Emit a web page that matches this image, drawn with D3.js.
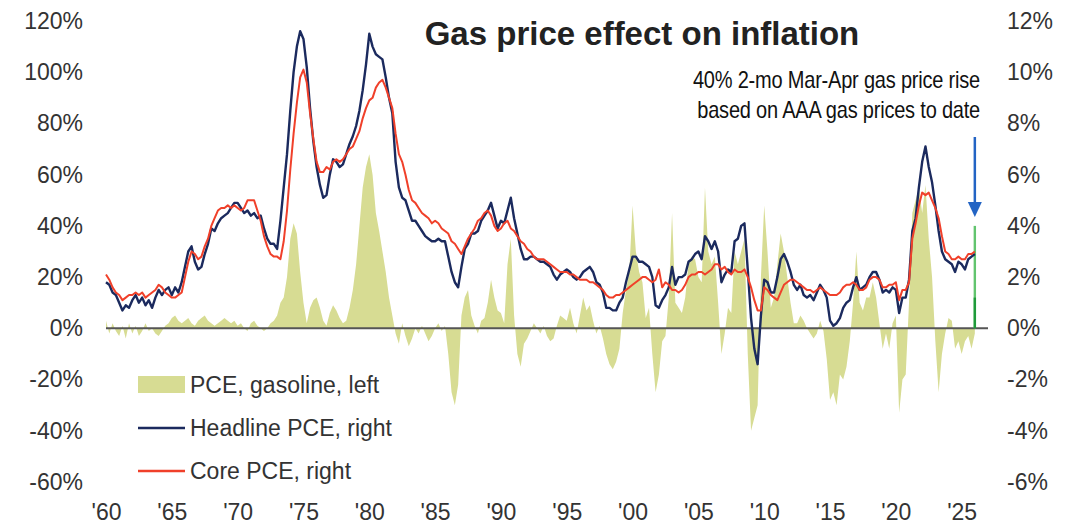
<!DOCTYPE html>
<html><head><meta charset="utf-8">
<script src="https://cdn.jsdelivr.net/npm/d3@7"></script>
<style>
body{margin:0;background:#fff}
svg{display:block}
text{font-family:"Liberation Sans",Arial,Helvetica,sans-serif}
</style>
</head><body>
<svg id="chart" width="1081" height="526"></svg>
<script>
// quarterly observations, starting 1960 Q1
const startYear = 1960;
const headline = [
1.8,1.7,1.4,1.3, 1.0,0.7,0.9,0.8, 1.1,1.3,1.0,1.2, 0.9,1.1,0.8,1.2, 1.5,1.3,1.5,1.6,
1.3,1.6,1.4,1.8, 2.4,3.0,3.2,2.6, 2.3,2.4,2.9,3.3, 3.9,3.8,4.1,4.3, 4.4,4.5,4.7,4.9,
4.9,4.7,4.5,4.6, 4.4,4.5,4.3,4.4, 3.9,3.5,3.3,3.3, 3.1,4.2,5.5,6.8, 8.5,10.0,11.0,11.6,
11.3,10.2,8.6,7.3, 6.3,5.6,5.1,5.2, 6.0,6.6,6.5,6.3, 6.4,6.8,7.2,7.5, 7.9,8.5,9.3,10.3,
11.5,11.0,10.7,10.6, 10.5,9.8,9.0,8.4, 6.5,5.5,5.1,5.0, 4.6,4.2,4.2,4.0, 3.8,3.6,3.5,3.4,
3.4,3.5,3.4,3.4, 2.8,2.2,1.8,1.6, 2.4,3.1,3.3,3.7, 3.7,3.8,4.2,4.4, 4.6,4.9,4.4,3.9,
4.2,4.1,4.6,5.1, 4.3,3.7,3.1,2.7, 2.7,2.8,2.8,2.7, 2.6,2.6,2.5,2.4, 2.1,1.9,2.1,2.2,
2.3,2.2,2.0,1.9, 2.0,2.2,2.3,2.4, 2.2,1.8,1.7,1.4, 0.8,0.8,0.7,0.7, 1.0,1.2,1.8,2.3,
2.8,2.8,2.6,2.6, 2.5,2.4,2.0,0.9, 0.8,1.1,1.3,1.6, 2.4,1.7,2.0,2.0, 2.1,2.6,2.7,2.9,
3.0,2.7,3.6,3.4, 3.1,3.4,3.0,1.8, 2.1,2.3,2.2,3.4, 3.5,4.0,4.1,2.3, 0.4,-0.8,-1.4,0.5,
1.9,1.8,1.4,1.4, 2.0,2.7,2.9,2.6, 2.2,1.7,1.5,1.7, 1.3,1.2,1.3,1.1, 1.4,1.7,1.5,1.2,
0.3,0.1,0.2,0.4, 0.8,1.0,1.1,1.6, 2.0,1.5,1.6,1.7, 2.0,2.2,2.2,1.9, 1.4,1.5,1.4,1.6,
1.5,0.6,1.2,1.2, 1.9,3.8,4.3,5.5, 6.5,7.1,6.3,5.7, 4.8,3.8,3.0,2.7, 2.6,2.5,2.2,2.6,
2.5,2.3,2.7,2.8, 2.9
];
const core = [
2.1,1.9,1.6,1.4, 1.3,1.1,1.2,1.3, 1.3,1.4,1.3,1.4, 1.2,1.3,1.4,1.5, 1.7,1.6,1.4,1.3,
1.2,1.2,1.3,1.4, 2.0,2.6,3.0,2.9, 2.7,2.8,3.2,3.5, 4.0,4.3,4.6,4.7, 4.7,4.8,4.7,4.8,
4.7,4.6,4.7,5.0, 5.0,5.0,4.6,4.2, 3.6,3.2,2.9,2.8, 2.8,2.7,3.4,4.6, 6.2,7.6,8.8,9.8,
10.1,9.6,8.4,7.4, 6.5,6.1,6.1,6.3, 6.2,6.5,6.6,6.5, 6.6,6.8,7.0,7.1, 7.4,7.7,8.2,8.6,
8.9,9.0,9.4,9.6, 9.7,9.4,9.0,8.6, 7.6,6.8,6.5,6.0, 5.4,5.0,4.9,4.7, 4.5,4.4,4.3,4.1,
4.2,4.1,3.9,3.8, 3.7,3.4,3.3,3.1, 2.9,3.2,3.5,3.7, 3.9,4.2,4.3,4.5, 4.6,4.4,4.0,3.8,
3.9,4.1,4.2,3.9, 3.8,3.6,3.4,3.3, 3.1,3.0,2.8,2.7, 2.7,2.7,2.6,2.5, 2.4,2.3,2.2,2.2,
2.2,2.1,2.1,2.0, 1.9,1.9,1.9,1.8, 1.8,1.7,1.6,1.5, 1.3,1.2,1.2,1.3, 1.3,1.4,1.5,1.6,
1.7,1.8,1.9,2.0, 2.0,1.9,1.8,1.9, 2.3,1.6,1.8,1.7, 1.5,1.5,1.4,1.5, 1.7,2.0,2.1,2.1,
2.2,2.2,2.1,2.2, 2.3,2.5,2.5,2.3, 2.4,2.2,2.1,2.3, 2.2,2.2,2.3,2.0, 1.6,1.1,0.7,0.7,
1.6,1.5,1.3,1.2, 1.1,1.4,1.7,1.8, 1.9,1.9,1.8,1.7, 1.6,1.5,1.5,1.4, 1.5,1.6,1.5,1.4,
1.3,1.3,1.3,1.4, 1.6,1.7,1.7,1.8, 1.7,1.5,1.5,1.6, 1.9,2.0,2.0,1.9, 1.6,1.6,1.7,1.7,
1.8,1.1,1.5,1.5, 1.8,3.5,4.1,4.8, 5.3,5.2,5.3,5.0, 4.7,4.3,3.6,3.0, 2.9,2.7,2.7,2.8,
2.7,2.7,2.9,2.9, 3.0
];
const gasoline = [
3,-2,2,-1, -3,1,-4,2, -2,1,-3,-1, 2,-1,0,-2, -3,-1,1,2,
4,5,3,2, 3,4,2,1, 3,4,5,3, 2,1,2,3, 4,3,2,3,
1,2,0,-1, 2,3,1,0, -1,0,2,3, 5,10,12,20, 35,41,37,22,
10,2,8,11, 12,8,3,1, 6,9,7,4, 2,3,8,15, 25,40,55,63,
68,60,45,38, 30,22,12,5, -2,-6,2,-3, -7,-4,0,-2, 1,-2,-5,-3,
0,2,-1,1, -10,-25,-30,-22, 5,12,15,5, 1,-2,3,4, 10,19,12,7,
6,2,25,35, 5,-10,-15,-6, -4,-1,2,0, -2,1,-3,-5, -4,1,5,4,
3,8,2,-2, 5,12,7,9, 3,-2,1,-4, -10,-14,-16,-13, -8,6,15,22,
48,30,22,18, 4,8,-10,-25, -18,-5,-3,12, 45,10,8,6, 12,25,28,27,
20,18,55,30, 25,28,10,-10, -2,8,6,30, 25,30,35,-10, -40,-35,-30,20,
48,30,8,12, 25,37,30,20, 10,2,2,5, 3,0,-2,-4, -2,3,-1,-12,
-28,-25,-30,-18, -20,-15,-5,10, 30,10,7,12, 12,18,12,2, -8,-2,-8,2,
5,-33,-20,-18, 10,45,50,55, 45,56,35,20, -5,-25,-10,-2, 4,3,-8,-5,
-10,-5,-3,-8, -2
];
const gasEstimate = 40;   // 2-mo Mar-Apr gas price rise estimate
const gasLatest = 12;
const estimateYear = 2026;
const xTicks = [1960,1965,1970,1975,1980,1985,1990,1995,2000,2005,2010,2015,2020,2025];
const xTickLabels = ["'60","'65","'70","'75","'80","'85","'90","'95","'00","'05","'10","'15","'20","'25"];
const leftTicks = [-60,-40,-20,0,20,40,60,80,100,120];
const rightTicks = [-6,-4,-2,0,2,4,6,8,10,12];
const seriesNames = ["PCE, gasoline, left","Headline PCE, right","Core PCE, right"];
const titleText = "Gas price effect on inflation";
const noteLines = ["40% 2-mo Mar-Apr gas price rise","based on AAA gas prices to date"];

const colors = {gas:"#d7dc93", headline:"#1b2a5e", core:"#f0402a", axis:"#555", text:"#333", arrow:"#2364c4", green:"#62c46e", greenDark:"#1f9a3a"};

const svg = d3.select("#chart");
const dates = headline.map((_, i) => startYear + i / 4);
const x = d3.scaleLinear().domain([1960, 2027]).range([106, 988]);
const yL = d3.scaleLinear().domain([-60, 120]).range([482, 21]);
const yR = d3.scaleLinear().domain([-6, 12]).range([482, 21]);

// gasoline area
const area = d3.area().x((d, i) => x(dates[i])).y0(yL(0)).y1(d => yL(d));
svg.append("path").datum(gasoline).attr("d", area).attr("fill", colors.gas);

// zero line
svg.append("line").attr("x1", x(1960)).attr("x2", x(2027)).attr("y1", yL(0)).attr("y2", yL(0))
  .attr("stroke", colors.axis).attr("stroke-width", 2);

// estimate bar
const bw = 2.4;
svg.append("rect").attr("x", x(estimateYear) - bw/2).attr("width", bw)
  .attr("y", yL(gasEstimate)).attr("height", yL(0) - yL(gasEstimate)).attr("fill", colors.green);
svg.append("rect").attr("x", x(estimateYear) - bw/2).attr("width", bw)
  .attr("y", yL(gasLatest)).attr("height", yL(0) - yL(gasLatest)).attr("fill", colors.greenDark);

// lines
const line = d3.line().x((d, i) => x(dates[i])).y(d => yR(d));
svg.append("path").datum(headline).attr("d", line).attr("fill", "none")
  .attr("stroke", colors.headline).attr("stroke-width", 2.4).attr("stroke-linejoin", "round");
svg.append("path").datum(core).attr("d", line).attr("fill", "none")
  .attr("stroke", colors.core).attr("stroke-width", 2).attr("stroke-linejoin", "round");

// axes
const fs = 23;
const axL = svg.append("g").attr("transform", `translate(${x(1960)},0)`)
  .call(d3.axisLeft(yL).tickValues(leftTicks).tickFormat(d => d + "%").tickSize(0).tickPadding(23));
const axR = svg.append("g").attr("transform", `translate(${x(2027)},0)`)
  .call(d3.axisRight(yR).tickValues(rightTicks).tickFormat(d => d + "%").tickSize(0).tickPadding(19));
const axB = svg.append("g").attr("transform", `translate(0,${yL(-60)})`)
  .call(d3.axisBottom(x).tickValues(xTicks).tickFormat((d, i) => xTickLabels[i]).tickSize(0).tickPadding(22));
[axL, axR, axB].forEach(g => {
  g.select(".domain").remove();
  g.selectAll("text").attr("font-size", fs).attr("fill", colors.text)
    .attr("font-family", "'Liberation Sans', Arial, sans-serif");
});

// title
svg.append("text").attr("x", 642).attr("y", 45).attr("text-anchor", "middle")
  .attr("font-size", 33).attr("font-weight", "bold").attr("fill", "#222").text(titleText);

// annotation (right-aligned, tall/condensed look)
noteLines.forEach((t, i) => {
  svg.append("text").attr("transform", `translate(980,${88 + i * 30}) scale(1,1.2)`)
    .attr("text-anchor", "end").attr("font-size", 20).attr("fill", "#111")
    .attr("letter-spacing", -0.2).text(t);
});
// arrow
const ax = x(estimateYear);
svg.append("line").attr("x1", ax).attr("x2", ax).attr("y1", 137).attr("y2", 205)
  .attr("stroke", colors.arrow).attr("stroke-width", 2.5);
svg.append("path").attr("d", `M${ax-7},202 L${ax+7},202 L${ax},217 Z`).attr("fill", colors.arrow);

// legend
const lg = svg.append("g");
lg.append("rect").attr("x", 138).attr("y", 376).attr("width", 47).attr("height", 17).attr("fill", colors.gas);
lg.append("line").attr("x1", 138).attr("x2", 185).attr("y1", 428).attr("y2", 428)
  .attr("stroke", colors.headline).attr("stroke-width", 2.4);
lg.append("line").attr("x1", 138).attr("x2", 185).attr("y1", 471).attr("y2", 471)
  .attr("stroke", colors.core).attr("stroke-width", 2.4);
seriesNames.forEach((n, i) => {
  lg.append("text").attr("x", 190).attr("y", 393 + i * 43).attr("font-size", 23)
    .attr("fill", colors.text).text(n);
});
</script>
</body></html>
